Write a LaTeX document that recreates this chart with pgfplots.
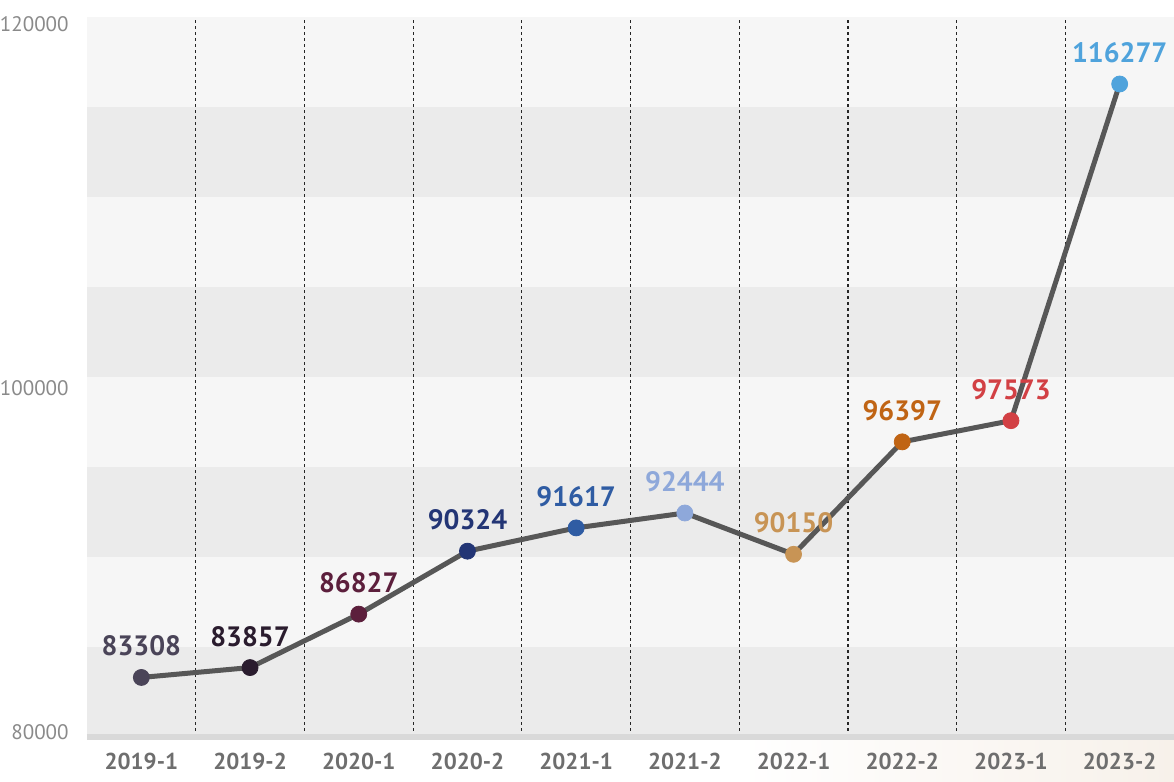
\documentclass[border=0pt]{standalone}
\usepackage{pgfplots}
\pgfplotsset{compat=1.18}
\usepackage{fontspec}
\setmainfont{PT Sans}
\definecolor{bandlight}{HTML}{F6F6F6}
\definecolor{banddark}{HTML}{EBEBEB}
\definecolor{linec}{HTML}{575757}
\definecolor{ytc}{HTML}{8A8A8A}
\definecolor{xtc}{HTML}{6E6E6E}
\definecolor{baseln}{HTML}{D9D9D9}
\definecolor{beige}{HTML}{F7F1EA}
\definecolor{c1}{HTML}{4A4458}
\definecolor{c2}{HTML}{2A1C2E}
\definecolor{c3}{HTML}{5C1F3C}
\definecolor{c4}{HTML}{233575}
\definecolor{c5}{HTML}{2F5CA3}
\definecolor{c6}{HTML}{8EA8DA}
\definecolor{c7}{HTML}{C89455}
\definecolor{c8}{HTML}{C06414}
\definecolor{c9}{HTML}{D24044}
\definecolor{c10}{HTML}{4FA3DC}
\newcommand{\datapt}[3]{%
  \addplot[only marks, mark=*, mark size=4pt, color=#3,
    point meta=explicit symbolic,
    nodes near coords,
    every node near coord/.append style={text=#3, font=\bfseries\fontsize{14}{15}\selectfont, anchor=south, yshift=7pt}]
    coordinates {(#1,#2) [#2]};}
\begin{document}
\begin{tikzpicture}
\begin{axis}[name=ax, set layers, scale only axis, width=543.5pt, height=360pt,
  xmin=-0.5, xmax=9.5, ymin=80000, ymax=120000,
  axis line style={draw=none}, clip=false,
  xtick={0,...,9},
  xticklabels={2019-1,2019-2,2020-1,2020-2,2021-1,2021-2,2022-1,2022-2,2023-1,2023-2},
  minor xtick={0.5,1.5,...,8.5},
  xminorgrids=true,
  minor grid style={draw=black!85, dash pattern=on 1.5pt off 1.5pt, line width=0.6pt},
  ytick={80278,99389,119600},
  yticklabels={80000,100000,120000},
  major tick length=0pt, minor tick length=0pt,
  yticklabel style={font=\fontsize{10.5}{12}\selectfont, text=ytc, xshift=-8pt, inner sep=1pt},
  xticklabel style={font=\bfseries\fontsize{11.5}{13}\selectfont, text=xtc, yshift=-4.5pt},
]
\begin{pgfonlayer}{axis background}
\shade[left color=white, right color=beige] (axis cs:5.5,77500) rectangle (axis cs:9.5,79900);
\fill[bandlight] (axis cs:-0.5,115000) rectangle (axis cs:9.5,120000);
\fill[banddark]  (axis cs:-0.5,110000) rectangle (axis cs:9.5,115000);
\fill[bandlight] (axis cs:-0.5,105000) rectangle (axis cs:9.5,110000);
\fill[banddark]  (axis cs:-0.5,100000) rectangle (axis cs:9.5,105000);
\fill[bandlight] (axis cs:-0.5,95000) rectangle (axis cs:9.5,100000);
\fill[banddark]  (axis cs:-0.5,90000) rectangle (axis cs:9.5,95000);
\fill[bandlight] (axis cs:-0.5,85000) rectangle (axis cs:9.5,90000);
\fill[banddark]  (axis cs:-0.5,80000) rectangle (axis cs:9.5,85000);
\end{pgfonlayer}
\draw[baseln, line width=3pt] (axis cs:-0.5,80000) -- (axis cs:9.5,80000);
\addplot[no marks, color=linec, line width=2.5pt] coordinates {
(0,83308) (1,83857) (2,86827) (3,90324) (4,91617) (5,92444) (6,90150) (7,96397) (8,97573) (9,116277)};
\datapt{0}{83308}{c1}
\datapt{1}{83857}{c2}
\datapt{2}{86827}{c3}
\datapt{3}{90324}{c4}
\datapt{4}{91617}{c5}
\datapt{5}{92444}{c6}
\datapt{6}{90150}{c7}
\datapt{7}{96397}{c8}
\datapt{8}{97573}{c9}
\datapt{9}{116277}{c10}
\end{axis}
\pgfresetboundingbox
\path ([xshift=-43.5pt,yshift=-22.5pt]ax.south west) rectangle ([yshift=8.5pt]ax.north east);
\end{tikzpicture}
\end{document}
